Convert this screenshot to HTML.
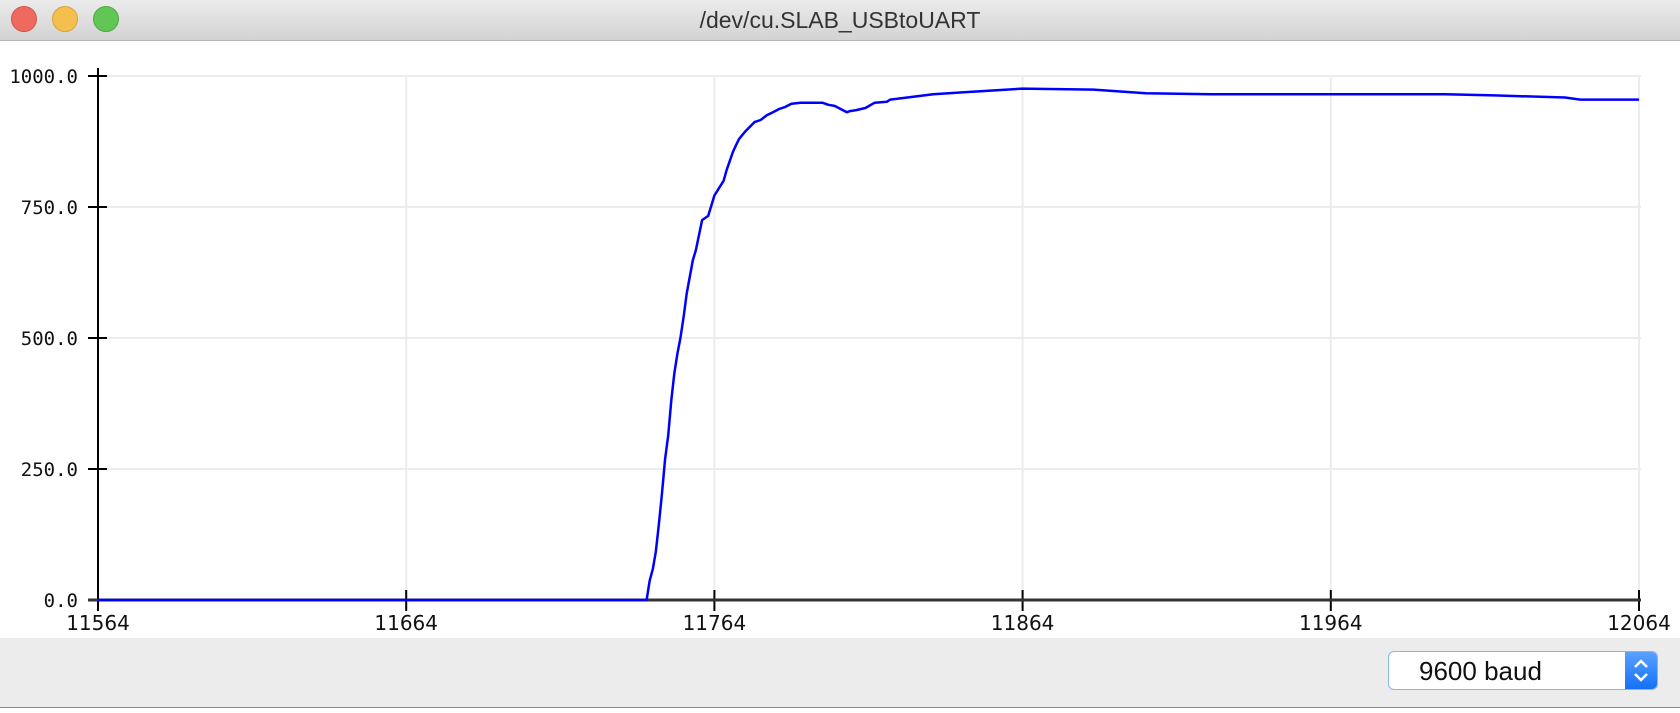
<!DOCTYPE html>
<html><head><meta charset="utf-8">
<style>
html,body{margin:0;padding:0;width:1680px;height:712px;overflow:hidden;background:#fff;font-family:"Liberation Sans",sans-serif}
#titlebar{position:absolute;left:0;top:0;width:1680px;height:40px;background:linear-gradient(#ebebeb,#d3d3d3);border-bottom:1px solid #b5b5b5}
.light{position:absolute;top:6px;width:24px;height:24px;border-radius:50%}
#title{position:absolute;left:0;width:1680px;top:7px;text-align:center;font-size:23px;color:#333}
#bottom{position:absolute;left:0;top:638px;width:1680px;height:69px;background:#ececec}
#baud{position:absolute;left:1388px;top:651px;width:270px;height:39px;border:1px solid #8ab4f0;border-radius:6px;background:#fff;box-sizing:border-box;overflow:hidden}
#baud span{position:absolute;left:30px;top:4px;font-size:26px;color:#111}
#stepper{position:absolute;right:0;top:0;width:32px;height:100%;background:linear-gradient(#5aa0ff,#1472f5)}
#console{position:absolute;left:0;top:707px;width:1680px;height:5px;background:#fff;border-top:1px solid #888;overflow:hidden}
</style></head><body>
<div id="titlebar">
<div class="light" style="left:11px;background:#ee6a5e;border:1px solid #d5554a"></div>
<div class="light" style="left:52px;background:#f5bf4f;border:1px solid #d9a23b"></div>
<div class="light" style="left:93px;background:#62c655;border:1px solid #4fa842"></div>
<div id="title">/dev/cu.SLAB_USBtoUART</div>
</div>
<svg id="chart" width="1680" height="712" style="position:absolute;left:0;top:0"></svg>
<div id="bottom">
<div id="baud" style="top:13px"><span>9600 baud</span><div id="stepper"><svg width="32" height="37"><polyline points="10,15 16,9 22,15" fill="none" stroke="#fff" stroke-width="2.5"/><polyline points="10,22 16,28 22,22" fill="none" stroke="#fff" stroke-width="2.5"/></svg></div></div>
</div>
<div id="console"></div>
<script>
const times=[11564,11742,11743,11744,11745,11746,11747,11748,11749,11750,11751,11752,11753,11754,11755,11757,11758,11760,11762,11764,11767,11768,11770,11771,11772,11774,11775,11777,11779,11781,11783,11785,11787,11789,11792,11799,11801,11803,11807,11808,11810,11813,11816,11820,11821,11824,11835,11845,11864,11887,11904,11925,11944,12001,12017,12040,12045,12064];
const values=[0,0,37,59,92,145,204,269,314,381,432,470,501,540,585,648,668,725,733,772,800,821,855,868,880,894,900,912,916,925,931,937,941,947,949,949,945,943,931,933,935,939,949,951,955,957,965,969,976,974,967,965,965,965,963,959,955,955];
const yTicks=[0,250,500,750,1000];
const yTickLabels=["0.0","250.0","500.0","750.0","1000.0"];
const xTicks=[11564,11664,11764,11864,11964,12064];
const xTickLabels=["11564","11664","11764","11864","11964","12064"];
const X0=98,X1=1639,Y0=600,Y1=76;
const xs=t=>X0+(t-11564)/(12064-11564)*(X1-X0);
const ys=v=>Y0-v/1000*(Y0-Y1);
const svg=document.getElementById('chart');
const NS='http://www.w3.org/2000/svg';
function mk(tag,attrs){const e=document.createElementNS(NS,tag);for(const k in attrs)e.setAttribute(k,attrs[k]);svg.appendChild(e);return e;}
yTicks.forEach((v,i)=>{
 const g=mk('line',{x1:X0,x2:X1+2,y1:ys(v),y2:ys(v),stroke:'#ececec','stroke-width':2});
 
 
 const t=mk('line',{x1:88,x2:107,y1:ys(v),y2:ys(v),stroke:'#000','stroke-width':2});
 
 
 const l=mk('text',{x:78,y:ys(v)+7,'text-anchor':'end','font-size':19,'font-family':'"DejaVu Sans Mono","Liberation Mono",monospace',fill:'#111'});
 l.textContent=yTickLabels[i];
 
 
});
xTicks.forEach((v,i)=>{
 const g=mk('line',{x1:xs(v),x2:xs(v),y1:Y1,y2:Y0,stroke:'#ececec','stroke-width':2});
 
 
 const t=mk('line',{x1:xs(v),x2:xs(v),y1:590,y2:611,stroke:'#000','stroke-width':2});
 
 
 const l=mk('text',{x:xs(v),y:630,'text-anchor':'middle','font-size':20,'font-family':'"DejaVu Sans","Liberation Sans",sans-serif',fill:'#111'});
 l.textContent=xTickLabels[i];
 
 
});
const ya=mk('line',{x1:X0,x2:X0,y1:68,y2:Y0,stroke:'#000','stroke-width':2});


const xa=mk('line',{x1:88,x2:X1+2,y1:Y0,y2:Y0,stroke:'#333','stroke-width':3});


const pts=times.map((t,i)=>xs(t).toFixed(1)+','+ys(values[i]).toFixed(1)).join(' ');
const line=mk('polyline',{points:pts,fill:'none',stroke:'#0000ff','stroke-width':2.5,'stroke-linejoin':'round'});


</script>
</body></html>
